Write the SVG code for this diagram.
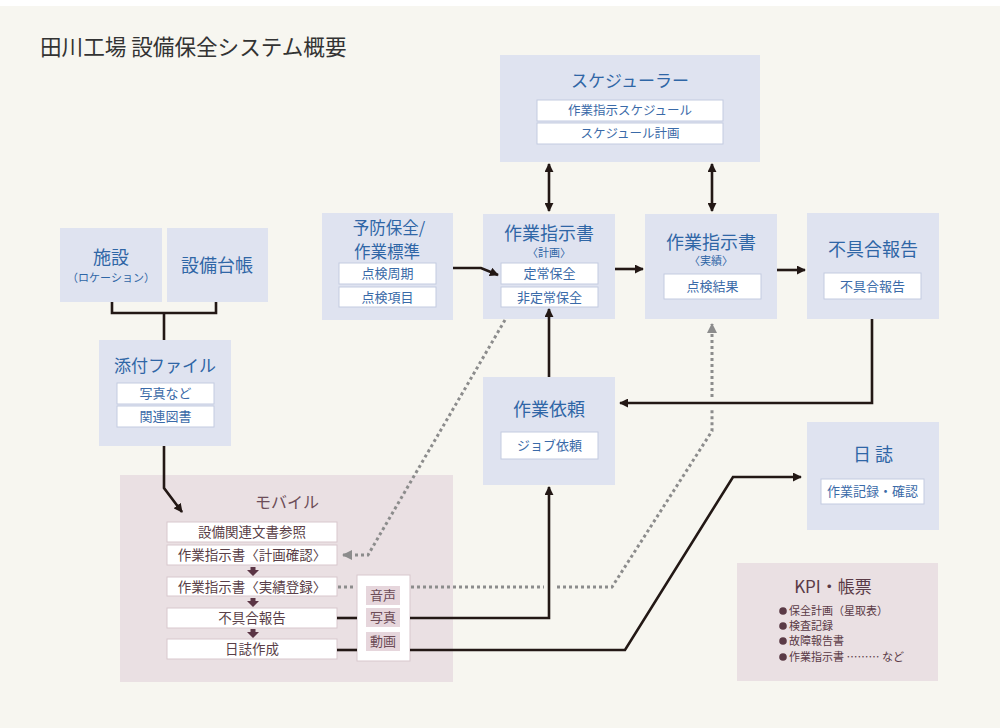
<svg xmlns="http://www.w3.org/2000/svg" width="1000" height="728" viewBox="0 0 1000 728">
<defs>
<style>
text{font-family:"Noto Sans CJK JP","Noto Sans",sans-serif;text-anchor:middle}
.node{fill:#dfe3f0}
.sub{fill:#fff;stroke:#c3cbe0;stroke-width:1}
.t{fill:#2f66a6;font-size:18px}
.ts{fill:#2f66a6;font-size:11px}
.st{fill:#3a6aa8;font-size:13px}
.mob{fill:#eae0e3}
.mi{fill:#fff;stroke:#d8c7cd;stroke-width:1}
.mt{fill:#5a3f48;font-size:13.5px}
.chip{fill:#e6d6dc}
.ct{fill:#6b4a55;font-size:13px}
.k{fill:#5a3a46}
.ln{fill:none;stroke:#231815;stroke-width:2.6}
.dt{fill:none;stroke:#8c8c8c;stroke-width:3;stroke-dasharray:3 3}
</style>
<marker id="ah" viewBox="0 0 10 10" refX="9" refY="5" markerWidth="9" markerHeight="9" markerUnits="userSpaceOnUse" orient="auto-start-reverse">
<path d="M0,0 L10,5 L0,10 z" fill="#231815"/>
</marker>
<marker id="ahg" viewBox="0 0 10 10" refX="9" refY="5" markerWidth="10" markerHeight="10" markerUnits="userSpaceOnUse" orient="auto">
<path d="M0,0 L10,5 L0,10 z" fill="#8c8c8c"/>
</marker>
<symbol id="darr" viewBox="0 0 12 9" width="12" height="9">
<path d="M3.5,0 H8.5 V3 H12 L6,9 L0,3 H3.5 z" fill="#5b3545"/>
</symbol>
</defs>
<rect x="0" y="0" width="1000" height="728" fill="#ffffff"/>
<rect x="0" y="6" width="1000" height="722" fill="#f7f6f0"/>
<text x="40" y="55" style="text-anchor:start;font-size:21.6px;fill:#333">田川工場 設備保全システム概要</text>

<g id="mobile-area">
<rect class="mob" x="120" y="475" width="333" height="207"/>
<text x="287" y="508" style="font-size:16px;fill:#6d4d58">モバイル</text>
</g>
<g id="kpi">
<rect class="mob" x="737" y="563" width="201" height="118"/>
<text class="k" x="833" y="593" style="font-size:17px">KPI・帳票</text>
<circle class="k" cx="783" cy="611" r="3.8"/>
<circle class="k" cx="783" cy="626" r="3.8"/>
<circle class="k" cx="783" cy="641" r="3.8"/>
<circle class="k" cx="783" cy="657" r="3.8"/>
<text class="k" x="789" y="615" style="text-anchor:start;font-size:11px">保全計画（星取表）</text>
<text class="k" x="789" y="630" style="text-anchor:start;font-size:11px">検査記録</text>
<text class="k" x="789" y="645" style="text-anchor:start;font-size:11px">故障報告書</text>
<text class="k" x="789" y="661" style="text-anchor:start;font-size:11px">作業指示書 ……… など</text>
</g>

<g id="scheduler">
<rect class="node" x="500" y="55" width="260" height="107"/>
<text class="t" x="630" y="87" style="font-size:17px">スケジューラー</text>
<rect class="sub" x="537" y="100" width="186" height="21"/>
<text class="st" x="630" y="115" style="font-size:12.5px">作業指示スケジュール</text>
<rect class="sub" x="537" y="123" width="186" height="21"/>
<text class="st" x="630" y="138" style="font-size:12.5px">スケジュール計画</text>
</g>

<g id="shisetsu">
<rect class="node" x="60" y="228" width="102" height="74"/>
<text class="t" x="111" y="264">施設</text>
<text class="ts" x="111" y="282">（ロケーション）</text>
</g>
<g id="setsubi-daicho">
<rect class="node" x="167" y="228" width="101" height="74"/>
<text class="t" x="217" y="272">設備台帳</text>
</g>

<g id="yobo-hozen">
<rect class="node" x="322" y="213" width="131" height="107"/>
<text class="t" x="389" y="234" style="font-size:16.5px">予防保全/</text>
<text class="t" x="387" y="258" style="font-size:16.5px">作業標準</text>
<rect class="sub" x="339" y="263" width="97" height="21"/>
<text class="st" x="387.5" y="278">点検周期</text>
<rect class="sub" x="339" y="287" width="97" height="20"/>
<text class="st" x="387.5" y="301.5">点検項目</text>
</g>

<g id="shiji-keikaku">
<rect class="node" x="483" y="214" width="132" height="105"/>
<text class="t" x="549" y="240">作業指示書</text>
<text class="ts" x="549" y="257">〈計画〉</text>
<rect class="sub" x="501" y="263" width="97" height="21"/>
<text class="st" x="549.5" y="278">定常保全</text>
<rect class="sub" x="501" y="287" width="97" height="20"/>
<text class="st" x="549.5" y="301.5">非定常保全</text>
</g>

<g id="shiji-jisseki">
<rect class="node" x="645" y="214" width="132" height="105"/>
<text class="t" x="711" y="249">作業指示書</text>
<text class="ts" x="711" y="265">〈実績〉</text>
<rect class="sub" x="664" y="274" width="97" height="25"/>
<text class="st" x="712.5" y="291">点検結果</text>
</g>

<g id="fuguai">
<rect class="node" x="807" y="213" width="132" height="106"/>
<text class="t" x="873" y="256">不具合報告</text>
<rect class="sub" x="824" y="273" width="97" height="26"/>
<text class="st" x="872.5" y="290.5">不具合報告</text>
</g>

<g id="tenpu">
<rect class="node" x="99" y="340" width="132" height="106"/>
<text class="t" x="165" y="372" style="font-size:17px">添付ファイル</text>
<rect class="sub" x="117" y="383" width="97" height="21"/>
<text class="st" x="165.5" y="398">写真など</text>
<rect class="sub" x="117" y="406" width="97" height="21"/>
<text class="st" x="165.5" y="421">関連図書</text>
</g>

<g id="irai">
<rect class="node" x="483" y="377" width="132" height="108"/>
<text class="t" x="549" y="416">作業依頼</text>
<rect class="sub" x="501" y="432" width="97" height="27"/>
<text class="st" x="549.5" y="450">ジョブ依頼</text>
</g>

<g id="nisshi">
<rect class="node" x="807" y="422" width="132" height="108"/>
<text class="t" x="873" y="461">日 誌</text>
<rect class="sub" x="821" y="479" width="103" height="25"/>
<text class="st" x="872.5" y="496">作業記録・確認</text>
</g>

<g id="mobile-steps">
<rect class="mi" x="167" y="522" width="170" height="20"/>
<text class="mt" x="252" y="537">設備関連文書参照</text>
<rect class="mi" x="167" y="545" width="170" height="20"/>
<text class="mt" x="252" y="560">作業指示書〈計画確認〉</text>
<use href="#darr" x="247" y="567"/>
<rect class="mi" x="167" y="577" width="170" height="19"/>
<text class="mt" x="252" y="591.5">作業指示書〈実績登録〉</text>
<use href="#darr" x="247" y="598"/>
<rect class="mi" x="167" y="608" width="170" height="20"/>
<text class="mt" x="252" y="623">不具合報告</text>
<use href="#darr" x="247" y="629"/>
<rect class="mi" x="167" y="639" width="170" height="20"/>
<text class="mt" x="252" y="654">日誌作成</text>
</g>

<g id="media">
<rect class="mi" x="357" y="575" width="53" height="86"/>
<rect class="chip" x="366" y="586" width="34" height="19"/>
<text class="ct" x="383" y="600">音声</text>
<rect class="chip" x="366" y="608" width="34" height="19"/>
<text class="ct" x="383" y="622">写真</text>
<rect class="chip" x="366" y="632" width="34" height="19"/>
<text class="ct" x="383" y="646">動画</text>
</g>

<g id="connectors">
<path class="ln" d="M112,302 V313 H216 V302"/>
<path class="ln" d="M164,313 V340"/>
<path class="ln" d="M164,446 V488 L182,512" marker-end="url(#ah)"/>
<path class="ln" d="M453,268 H481 L498,275" marker-end="url(#ah)"/>
<path class="ln" d="M615,269 H643" marker-end="url(#ah)"/>
<path class="ln" d="M777,270 H805" marker-end="url(#ah)"/>
<path class="ln" d="M872,319 V403 H620" marker-end="url(#ah)"/>
<path class="ln" d="M549,377 V309" marker-end="url(#ah)"/>
<path class="ln" d="M549,164 V211" marker-start="url(#ah)" marker-end="url(#ah)"/>
<path class="ln" d="M712,164 V211" marker-start="url(#ah)" marker-end="url(#ah)"/>
<path class="ln" d="M337,618 H357"/>
<path class="ln" d="M410,618 H549 V487" marker-end="url(#ah)"/>
<path class="ln" d="M337,650 H357"/>
<path class="ln" d="M410,650 H625 L733,477 H801" marker-end="url(#ah)"/>
<path class="dt" d="M505,320 L368,555 H343" marker-end="url(#ahg)"/>
<path class="dt" d="M338,587 H356"/>
<path class="dt" d="M411,587 H544"/>
<path class="dt" d="M557,587 H612 L712,431 V408"/>
<path class="dt" d="M712,397 V324" marker-end="url(#ahg)"/>
</g>
</svg>
